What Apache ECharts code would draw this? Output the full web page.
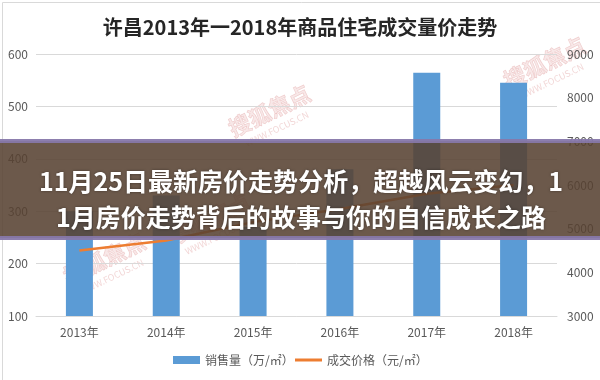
<!DOCTYPE html>
<html>
<head>
<meta charset="utf-8">
<script src="https://cdn.jsdelivr.net/npm/echarts@6/dist/echarts.min.js"></script>
<style>
html,body{margin:0;padding:0;background:#fff;}
#c{width:600px;height:380px;}
</style>
</head>
<body>
<div id="c"></div>
<script>
const categories = ['2013年','2014年','2015年','2016年','2017年','2018年'];
const salesVolume = [300, 330, 270, 380, 564, 545];
const avgPrice = [4500, 4730, 5150, 5450, 5800, 6000];
const leftTicks = [100, 600, 100];
const rightTicks = [3000, 9000, 1000];
const titleText = '许昌2013年一2018年商品住宅成交量价走势';
const bannerLines = ['11月25日最新房价走势分析，超越风云变幻，1', '1月房价走势背后的故事与你的自信成长之路'];
const seriesNames = ['销售量（万/㎡）', '成交价格（元/㎡）'];

const chart = echarts.init(document.getElementById('c'));
const FONT = '"Noto Sans CJK SC", "Noto Sans", sans-serif';

function watermark(x, y) {
  return {
    type: 'group', x: x, y: y, rotation: Math.PI / 7, silent: true, z: 50,
    children: [
      {type: 'text', style: {text: '搜狐焦点', x: 0, y: 0, fill: 'rgba(210,110,110,0.16)', stroke: 'rgba(200,80,80,0.25)', lineWidth: 0.6, font: 'bold 22px ' + FONT}},
      {type: 'text', style: {text: 'WWW.FOCUS.CN', x: 8, y: 26, fill: 'rgba(205,90,90,0.25)', font: '9px ' + FONT}}
    ]
  };
}

chart.setOption({
  animation: false,
  textStyle: {fontFamily: FONT},
  title: {
    text: titleText, left: 'center', top: 12,
    textStyle: {fontSize: 20, fontWeight: 'bold', color: '#262626', fontFamily: FONT}
  },
  grid: {left: 36, right: 43, top: 54, bottom: 64},
  legend: [{
    left: 168, top: 349, itemWidth: 27, itemHeight: 8, itemGap: 5,
    textStyle: {color: '#595959', fontSize: 12},
    data: [{name: seriesNames[0], icon: 'rect'}]
  }, {
    left: 290, top: 349, itemWidth: 27, itemHeight: 3, itemGap: 5,
    textStyle: {color: '#595959', fontSize: 12},
    data: [{name: seriesNames[1], icon: 'rect'}]
  }],
  xAxis: {
    type: 'category', data: categories,
    axisLine: {show: true, lineStyle: {color: '#d9d9d9'}},
    axisTick: {show: false},
    axisLabel: {color: '#595959', fontSize: 12, margin: 10}
  },
  yAxis: [{
    type: 'value', min: leftTicks[0], max: leftTicks[1], interval: leftTicks[2],
    axisLine: {show: false}, axisTick: {show: false},
    axisLabel: {color: '#595959', fontSize: 12, margin: 8},
    splitLine: {lineStyle: {color: '#d9d9d9'}}
  }, {
    type: 'value', min: rightTicks[0], max: rightTicks[1], interval: rightTicks[2],
    axisLine: {show: false}, axisTick: {show: false},
    axisLabel: {color: '#595959', fontSize: 12, margin: 10, formatter: function (v) { return String(v); }},
    splitLine: {show: false}
  }],
  series: [{
    name: seriesNames[0], type: 'bar', data: salesVolume, barWidth: 27,
    itemStyle: {color: '#5b9bd5'}
  }, {
    name: seriesNames[1], type: 'line', yAxisIndex: 1, data: avgPrice,
    symbol: 'none', lineStyle: {color: '#ed7d31', width: 2.5}, itemStyle: {color: '#ed7d31'}
  }],
  graphic: [
    {type: 'rect', left: 0, top: 0, silent: true, z: -1, shape: {x: 0.5, y: 0.5, width: 599, height: 378}, style: {fill: 'none', stroke: '#d9d9d9', lineWidth: 1}},
    watermark(60, 268),
    watermark(500, 72),
    watermark(225, 120),
    watermark(165, 228),
    {type: 'rect', silent: true, z: 100, shape: {x: 0, y: 141, width: 600, height: 97}, style: {fill: 'rgba(88,66,50,0.88)'}},
    {type: 'rect', silent: true, z: 101, shape: {x: 0, y: 139, width: 600, height: 4}, style: {fill: 'rgba(135,120,170,0.95)'}},
    {type: 'rect', silent: true, z: 101, shape: {x: 0, y: 236, width: 600, height: 4}, style: {fill: 'rgba(135,120,170,0.95)'}},
    {type: 'text', silent: true, z: 102, style: {
      text: bannerLines.join('\n'), x: 301, y: 199, align: 'center', verticalAlign: 'middle',
      fill: '#ffffff', font: 'bold 25px ' + FONT, lineHeight: 36,
      textShadowColor: 'rgba(0,0,0,0.4)', textShadowBlur: 3
    }}
  ]
});
</script>
</body>
</html>
